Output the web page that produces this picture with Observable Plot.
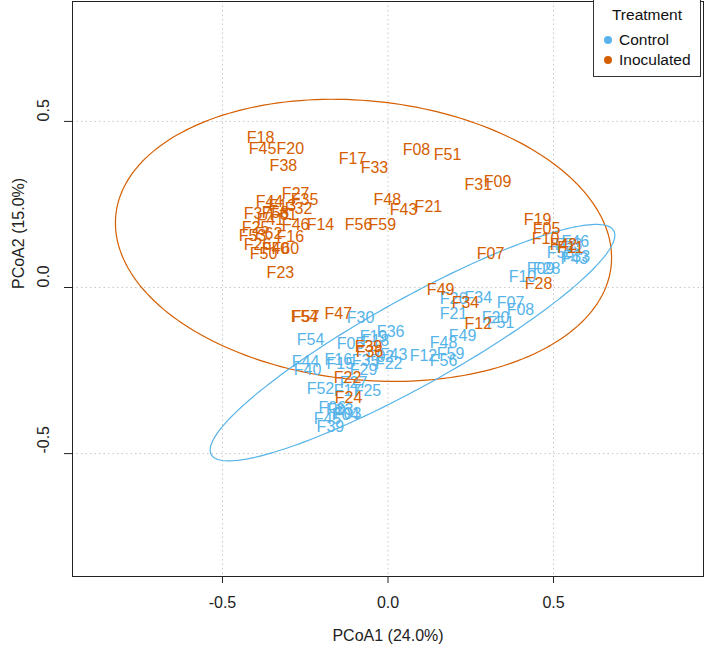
<!DOCTYPE html>
<html>
<head>
<meta charset="utf-8">
<script src="https://cdn.jsdelivr.net/npm/d3@7"></script>
<script src="https://cdn.jsdelivr.net/npm/@observablehq/plot@0.6"></script>
<style>
  body { margin: 0; background: #fff; }
  #wrap { position: relative; width: 704px; height: 650px; font-family: "Liberation Sans", Arial, sans-serif; }
  #legend { position: absolute; left: 593px; top: -1px; width: 108px; height: 78px; border: 1px solid #333; background: #fff; box-sizing: border-box; font-size: 15.5px; color: #111; }
  #legend .title { position: absolute; top: 6px; left: 0; width: 100%; text-align: center; }
  #legend .item { position: absolute; left: 10px; height: 17px; line-height: 17px; white-space: nowrap; }
  #legend .dot { display: inline-block; width: 8px; height: 8px; border-radius: 50%; margin-right: 7px; vertical-align: 1px; }
</style>
</head>
<body>
<div id="wrap"></div>
<script>
// ---- data ----
const groups = ["Control", "Inoculated"];
const groupColors = ["#56B4E9", "#D55E00"];

const inocLabels = ["F18","F45","F20","F38","F17","F33","F08","F51","F31","F09",
  "F27","F35","F44","F32","F13","F37","F58","F61","F41","F46",
  "F14","F56","F59","F48","F43","F21","F25","F53","F62","F16",
  "F26","F40","F60","F50","F23","F07","F19","F05","F10","F42",
  "F11","F28","F49","F34","F12","F57","F54","F47","F39","F36",
  "F22","F24"];
const inocX = [-0.385,-0.379,-0.295,-0.316,-0.107,-0.041,0.086,0.180,0.273,0.331,
  -0.279,-0.252,-0.358,-0.270,-0.319,-0.394,-0.340,-0.316,-0.355,-0.279,
  -0.204,-0.089,-0.017,-0.002,0.047,0.122,-0.400,-0.409,-0.361,-0.295,
  -0.394,-0.340,-0.310,-0.376,-0.325,0.310,0.452,0.479,0.476,0.530,
  0.551,0.455,0.159,0.234,0.273,-0.249,-0.252,-0.150,-0.059,-0.056,
  -0.122,-0.119];
const inocY = [0.449,0.416,0.416,0.367,0.386,0.361,0.413,0.398,0.310,0.319,
  0.283,0.265,0.259,0.238,0.247,0.223,0.226,0.220,0.205,0.190,
  0.190,0.190,0.190,0.265,0.235,0.244,0.181,0.154,0.160,0.151,
  0.127,0.117,0.117,0.102,0.045,0.102,0.205,0.178,0.145,0.127,
  0.120,0.012,-0.006,-0.045,-0.108,-0.087,-0.087,-0.078,-0.178,-0.193,
  -0.271,-0.331];

const ctrlLabels = ["F30","F54","F36","F19","F18","F05","F44","F40","F16","F15",
  "F35","F29","F22","F43","F02","F12","F59","F56","F48","F49",
  "F21","F52","F25","F17","F27","F06","F03","F04","F45","F39",
  "F23","F34","F26","F07","F08","F51","F20","F10","F09","F28",
  "F46","F53","F58","F43","F33"];
const ctrlX = [-0.083,-0.234,0.008,-0.044,-0.038,-0.113,-0.249,-0.243,-0.150,-0.144,
  -0.068,-0.074,0.002,0.017,-0.023,0.107,0.189,0.168,0.168,0.225,
  0.198,-0.204,-0.062,-0.122,-0.104,-0.168,-0.122,-0.128,-0.183,-0.174,
  -0.146,0.273,0.198,0.370,0.400,0.340,0.325,0.406,0.461,0.479,
  0.566,0.545,0.521,0.563,0.569];
const ctrlY = [-0.090,-0.157,-0.133,-0.148,-0.160,-0.169,-0.223,-0.247,-0.217,-0.229,
  -0.220,-0.247,-0.229,-0.202,-0.208,-0.205,-0.199,-0.220,-0.166,-0.145,
  -0.078,-0.304,-0.310,-0.310,-0.286,-0.361,-0.380,-0.383,-0.395,-0.419,
  -0.367,-0.030,-0.033,-0.045,-0.066,-0.105,-0.090,0.033,0.057,0.057,
  0.136,0.127,0.105,0.087,0.093];

// confidence ellipses (center, semi-axes, rotation in degrees)
const ellipseGroup = ["Inoculated", "Control"];
const ellipseCX = [-0.074, 0.074];
const ellipseCY = [0.142, -0.166];
const ellipseA = [0.752, 0.695];
const ellipseB = [0.420, 0.131];
const ellipseAngle = [-5.8, 29.0];

const xTicks = [-0.5, 0, 0.5];
const yTicks = [-0.5, 0, 0.5];
const xTitle = "PCoA1 (24.0%)";
const yTitle = "PCoA2 (15.0%)";

// ---- build tables ----
const points = [
  ...ctrlLabels.map((l, i) => ({label: l, x: ctrlX[i], y: ctrlY[i], group: "Control"})),
  ...inocLabels.map((l, i) => ({label: l, x: inocX[i], y: inocY[i], group: "Inoculated"}))
];

const ellipsePts = [];
ellipseGroup.forEach((g, k) => {
  const phi = ellipseAngle[k] * Math.PI / 180;
  const n = 200;
  for (let j = 0; j <= n; j++) {
    const t = 2 * Math.PI * j / n;
    const ex = ellipseA[k] * Math.cos(t), ey = ellipseB[k] * Math.sin(t);
    ellipsePts.push({
      group: g,
      x: ellipseCX[k] + ex * Math.cos(phi) - ey * Math.sin(phi),
      y: ellipseCY[k] + ex * Math.sin(phi) + ey * Math.cos(phi)
    });
  }
});

const fmt = d => d.toFixed(1);
const font = "'Liberation Sans', Arial, sans-serif";

const chart = Plot.plot({
  width: 704,
  height: 650,
  marginLeft: 72,
  marginRight: 1,
  marginTop: 1,
  marginBottom: 74,
  style: {fontFamily: font, fontSize: "16px", background: "#fff", color: "#222"},
  x: {domain: [-0.953, 0.953]},
  y: {domain: [-0.870, 0.861]},
  color: {domain: groups, range: groupColors},
  marks: [
    Plot.gridX(xTicks, {stroke: "#c8c8c8", strokeOpacity: 1, strokeDasharray: "1.5,3"}),
    Plot.gridY(yTicks, {stroke: "#c8c8c8", strokeOpacity: 1, strokeDasharray: "1.5,3"}),
    Plot.line(ellipsePts, {x: "x", y: "y", z: "group", stroke: "group", strokeWidth: 1.2}),
    Plot.text(points, {x: "x", y: "y", text: "label", fill: "group", fontSize: 16}),
    Plot.frame({stroke: "#222", strokeWidth: 1}),
    Plot.axisX(xTicks, {tickSize: 7, tickPadding: 13, tickFormat: fmt, label: null, fontSize: 16, stroke: "#222"}),
    Plot.axisY(yTicks, {tickSize: 8, tickFormat: () => "", label: null, stroke: "#222"}),
    Plot.text(yTicks, {y: d => d, text: d => fmt(d), frameAnchor: "left", dx: -29, rotate: -90, fontSize: 16, fill: "#222"}),
    Plot.text([xTitle], {frameAnchor: "bottom", dy: 64, fontSize: 16, fill: "#222"}),
    Plot.text([yTitle], {frameAnchor: "left", dx: -54, rotate: -90, fontSize: 16, fill: "#222"})
  ]
});

const wrap = document.getElementById("wrap");
wrap.appendChild(chart);

const legend = document.createElement("div");
legend.id = "legend";
legend.innerHTML = `<div class="title">Treatment</div>` +
  groups.map((g, i) => `<div class="item" style="top:${31 + i * 20}px"><span class="dot" style="background:${groupColors[i]}"></span>${g}</div>`).join("");
wrap.appendChild(legend);
</script>
</body>
</html>
